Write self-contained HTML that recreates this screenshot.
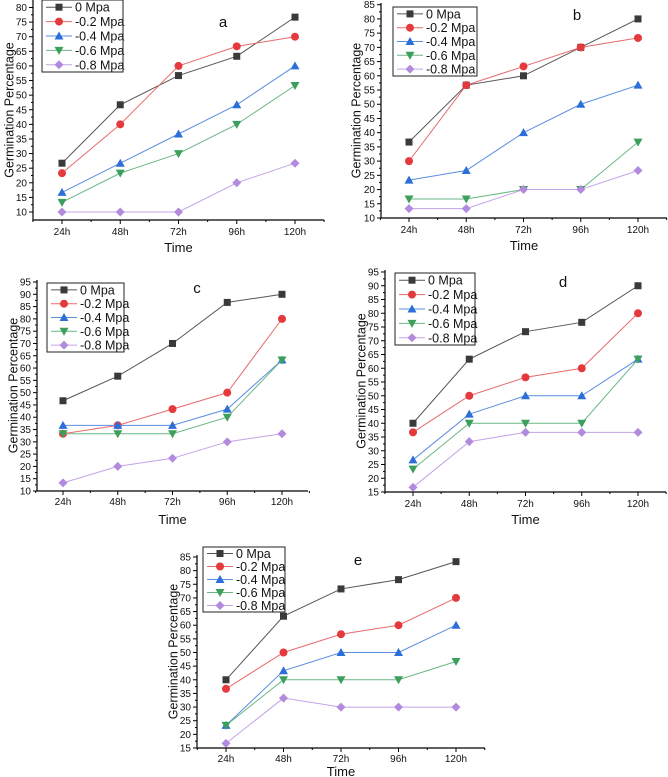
<!DOCTYPE html>
<html><head><meta charset="utf-8"><style>
body{margin:0;background:#fff}
svg{display:block;font-family:"Liberation Sans",Arial,sans-serif}
</style></head><body>
<svg id="s" width="668" height="777" viewBox="0 0 668 777"></svg>
<script>
const categories=["24h","48h","72h","96h","120h"];
const seriesNames=["0 Mpa","-0.2 Mpa","-0.4 Mpa","-0.6 Mpa","-0.8 Mpa"];
const dataA=[[26.7,46.7,56.7,63.3,76.7],[23.3,40,60,66.7,70],[16.7,26.7,36.7,46.7,60],[13.3,23.3,30,40,53.3],[10,10,10,20,26.7]];
const dataB=[[36.7,56.7,60,70,80],[30,56.7,63.3,70,73.3],[23.3,26.7,40,50,56.7],[16.7,16.7,20,20,36.7],[13.3,13.3,20,20,26.7]];
const dataC=[[46.7,56.7,70,86.7,90],[33.3,36.7,43.3,50,80],[36.7,36.7,36.7,43.3,63.3],[33.3,33.3,33.3,40,63.3],[13.3,20,23.3,30,33.3]];
const dataD=[[40,63.3,73.3,76.7,90],[36.7,50,56.7,60,80],[26.7,43.3,50,50,63.3],[23.3,40,40,40,63.3],[16.7,33.3,36.7,36.7,36.7]];
const dataE=[[40,63.3,73.3,76.7,83.3],[36.7,50,56.7,60,70],[23.3,43.3,50,50,60],[23.3,40,40,40,46.7],[16.7,33.3,30,30,30]];
const ticksA=[10,15,20,25,30,35,40,45,50,55,60,65,70,75,80];
const ticksB=[10,15,20,25,30,35,40,45,50,55,60,65,70,75,80,85];
const ticksC=[10,15,20,25,30,35,40,45,50,55,60,65,70,75,80,85,90,95];
const ticksD=[15,20,25,30,35,40,45,50,55,60,65,70,75,80,85,90,95];
const ticksE=[15,20,25,30,35,40,45,50,55,60,65,70,75,80,85];
const colors=["#3a3a3a","#e53a3d","#2d6fd8","#3c9f5b","#b28ade"];
const lineColors=["#555","#e86a6c","#5a8ee0","#6ab784","#c3a3e6"];
const NS="http://www.w3.org/2000/svg";
const svg=document.getElementById('s');
function mk(t,a,p){const e=document.createElementNS(NS,t);for(const k in a)e.setAttribute(k,a[k]);(p||svg).appendChild(e);return e;}
function marker(g,k,x,y){
  let e;
  if(k==0)e=mk('rect',{x:x-3.5,y:y-3.5,width:7,height:7,fill:colors[0]},g);
  else if(k==1)e=mk('circle',{cx:x,cy:y,r:4,fill:colors[1]},g);
  else if(k==2)e=mk('polygon',{points:`${x},${y-4.5} ${x+4.5},${y+3.5} ${x-4.5},${y+3.5}`,fill:colors[2]},g);
  else if(k==3)e=mk('polygon',{points:`${x},${y+4.5} ${x+4.5},${y-3.5} ${x-4.5},${y-3.5}`,fill:colors[3]},g);
  else e=mk('polygon',{points:`${x},${y-4.5} ${x+4.5},${y} ${x},${y+4.5} ${x-4.5},${y}`,fill:colors[4]},g);
  
  
}
const panels=[
 {id:'a',data:dataA,ticks:ticksA,axL:33,axR:324,axT:0,axB:220,v0:10,y0:212,v1:80,y1:7.5,x0:62,x1:295,lblY:235,timeY:252,ylX:10,leg:[42,0,123,72],title:[223,22]},
 {id:'b',data:dataB,ticks:ticksB,axL:381,axR:667,axT:3,axB:218,v0:10,y0:218,v1:85,y1:4.7,x0:409,x1:638,lblY:233,timeY:250,ylX:357,leg:[393,7,477,76],title:[577,15]},
 {id:'c',data:dataC,ticks:ticksC,axL:37,axR:308,axT:280,axB:491,v0:10,y0:491,v1:95,y1:282,x0:63,x1:282,lblY:505,timeY:524,ylX:14,leg:[47,283,124,352],title:[197,288]},
 {id:'d',data:dataD,ticks:ticksD,axL:385,axR:666,axT:270,axB:492,v0:15,y0:492,v1:95,y1:272,x0:413,x1:638,lblY:507,timeY:524,ylX:362,leg:[395,273,475,345],title:[563,282]},
 {id:'e',data:dataE,ticks:ticksE,axL:197,axR:485,axT:555,axB:748,v0:15,y0:748,v1:85,y1:557,x0:226,x1:456,lblY:762,timeY:776,ylX:174,leg:[203,547,285,612],title:[358,560]}
];
panels.forEach(p=>{
  const g=mk('g',{});
  
  
  const ys=v=>p.y0+(v-p.v0)*(p.y1-p.y0)/(p.v1-p.v0);
  const step=(p.x1-p.x0)/(categories.length-1);
  const xs=i=>p.x0+i*step;
  const ax=mk('path',{d:`M${p.axL},${p.axT}V${p.axB}H${p.axR}`,stroke:'#000','stroke-width':1.2,fill:'none'},g);
  
  
  p.ticks.forEach(t=>{
    const y=ys(t);
    mk('line',{x1:p.axL-4,x2:p.axL,y1:y,y2:y,stroke:'#000','stroke-width':1},g);
    if(t+2.5<=p.ticks[p.ticks.length-1]){const ym=ys(t+2.5);mk('line',{x1:p.axL-2,x2:p.axL,y1:ym,y2:ym,stroke:'#000','stroke-width':1},g);}
    const tx=mk('text',{x:p.axL-6,y:y+3.5,'text-anchor':'end','font-size':10,fill:'#111'},g);
    tx.textContent=t;
    
    
  });
  categories.forEach((c,i)=>{
    const x=xs(i);
    mk('line',{x1:x,x2:x,y1:p.axB,y2:p.axB+4,stroke:'#000','stroke-width':1},g);
    mk('line',{x1:x+step/2,x2:x+step/2,y1:p.axB,y2:p.axB+2,stroke:'#000','stroke-width':1},g);
    if(i==0)mk('line',{x1:x-step/2,x2:x-step/2,y1:p.axB,y2:p.axB+2,stroke:'#000','stroke-width':1},g);
    const tx=mk('text',{x:x,y:p.lblY,'text-anchor':'middle','font-size':10,fill:'#111'},g);
    tx.textContent=c;
    
    
  });
  const xt=mk('text',{x:(p.axL+p.axR)/2,y:p.timeY,'text-anchor':'middle','font-size':13,fill:'#111'},g);
  xt.textContent='Time';
  
  
  const yc=(p.axT+p.axB)/2;
  const yt=mk('text',{x:p.ylX,y:yc,'text-anchor':'middle','font-size':12.5,fill:'#111',transform:`rotate(-90 ${p.ylX} ${yc})`,'dominant-baseline':'middle'},g);
  yt.textContent='Germination Percentage';
  
  
  const tt=mk('text',{x:p.title[0],y:p.title[1]+5,'text-anchor':'middle','font-size':15,fill:'#111'},g);
  tt.textContent=p.id;
  
  
  p.data.forEach((s,k)=>{
    const sg=mk('g',{},g);
    
    
    const ln=mk('polyline',{points:s.map((v,i)=>xs(i)+','+ys(v)).join(' '),fill:'none',stroke:lineColors[k],'stroke-width':1},sg);
    
    
    s.forEach((v,i)=>marker(sg,k,xs(i),ys(v)));
  });
  const [lx0,ly0,lx1,ly1]=p.leg;
  const lg=mk('g',{},g);
  
  
  mk('rect',{x:lx0,y:ly0,width:lx1-lx0,height:ly1-ly0,fill:'#fff',stroke:'#222','stroke-width':1},lg);
  const rh=(ly1-ly0)/5;
  seriesNames.forEach((n,k)=>{
    const y=ly0+rh*(k+0.5);
    const e=mk('g',{},lg);
    
    
    mk('line',{x1:lx0+4,x2:lx0+30,y1:y,y2:y,stroke:lineColors[k],'stroke-width':1},e);
    marker(e,k,lx0+17,y);
    const t=mk('text',{x:lx0+33,y:y+4.5,'font-size':12.5,fill:'#111'},e);
    t.textContent=n;
  });
});
</script>
</body></html>
